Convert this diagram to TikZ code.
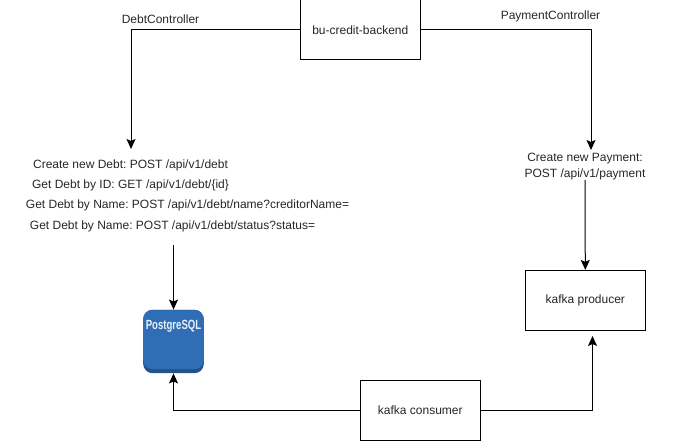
\documentclass[tikz,border=0pt]{standalone}
\usepackage{fontspec}
\usepackage{graphicx}
\setmainfont{Liberation Sans}
\usetikzlibrary{arrows.meta, positioning, calc}
\definecolor{azulPostgres}{HTML}{2F6DB5}
\definecolor{azulOscuro}{HTML}{26528A}
\colorlet{colLinea}{black}
\colorlet{colTexto}{black!85}
\tikzset{
  cajaBase/.style={
    draw=colLinea, line width=0.75pt,
    align=center, font=\fontsize{9}{11}\selectfont, text=colTexto,
    fill=white, inner sep=0pt,
    minimum width=90pt, minimum height=45pt
  },
  flecha/.style={-{Stealth[length=7.5pt, width=6.75pt, inset=1.5pt]}, line width=0.75pt, colLinea},
  etiqueta/.style={font=\fontsize{9}{11.5}\selectfont\frenchspacing, text=colTexto, align=center, inner sep=0pt},
  cajaPostgres/.style={fill=azulOscuro, rounded corners=7pt, inner sep=0pt,
    minimum width=45.5pt, minimum height=47.5pt,
    path picture={\fill[azulPostgres] (path picture bounding box.north west)
      rectangle ($(path picture bounding box.south east)+(0,3pt)$);}},
}

\begin{document}
\begin{tikzpicture}[x=0.75pt, y=-0.75pt]
    \useasboundingbox (0,0) rectangle (700,441);

    \node[cajaBase] (backend) at (360.3,30) {bu-credit-backend};
    \node[cajaBase] (productor) at (585.3,300.4) {kafka producer};
    \node[cajaBase] (consumidor) at (420.3,410.4) {kafka consumer};

    \node[etiqueta] (debtCtrl) at (160.5,19) {DebtController};
    \node[etiqueta] (paymentCtrl) at (550.5,16) {PaymentController};

    \node[etiqueta] (deuda1) at (130.5,165.8) {Create new Debt: POST /api/v1/debt};
    \node[etiqueta] (deuda2) at (130.5,185.8) {Get Debt by ID: GET /api/v1/debt/\{id\}};
    \node[etiqueta] (deuda3) at (187.5,205.8) {Get Debt by Name: POST /api/v1/debt/name?creditorName=};
    \node[etiqueta] (deuda4) at (172.5,226.3) {Get Debt by Name: POST /api/v1/debt/status?status=};
    \node[etiqueta] (pago) at (585,166.5) {Create new Payment:\\POST /api/v1/payment};

    \node[cajaPostgres] (postgres) at (173.5,341.5) {};
    \node[font=\fontsize{10}{12}\selectfont\bfseries, text=white!90!azulPostgres, inner sep=0pt, below=7.5pt of postgres.north] (postgresTxt) {\scalebox{0.72}[1]{PostgreSQL}};

    \coordinate (finDeuda) at (131,149);
    \coordinate (finPago) at (591,150);
    \coordinate (inicioPostgres) at (173.5,245);
    \coordinate (finProductor) at (592.5,336);

    \draw[flecha] (backend.west) -| (finDeuda);
    \draw[flecha] (backend.east) -| (finPago);
    \draw[flecha] (pago.south) -- (productor.north);
    \draw[flecha] (inicioPostgres) -- (postgres.north);
    \draw[flecha] (consumidor.west) -| (postgres.south);
    \draw[flecha] (consumidor.east) -| (finProductor);
\end{tikzpicture}
\end{document}
